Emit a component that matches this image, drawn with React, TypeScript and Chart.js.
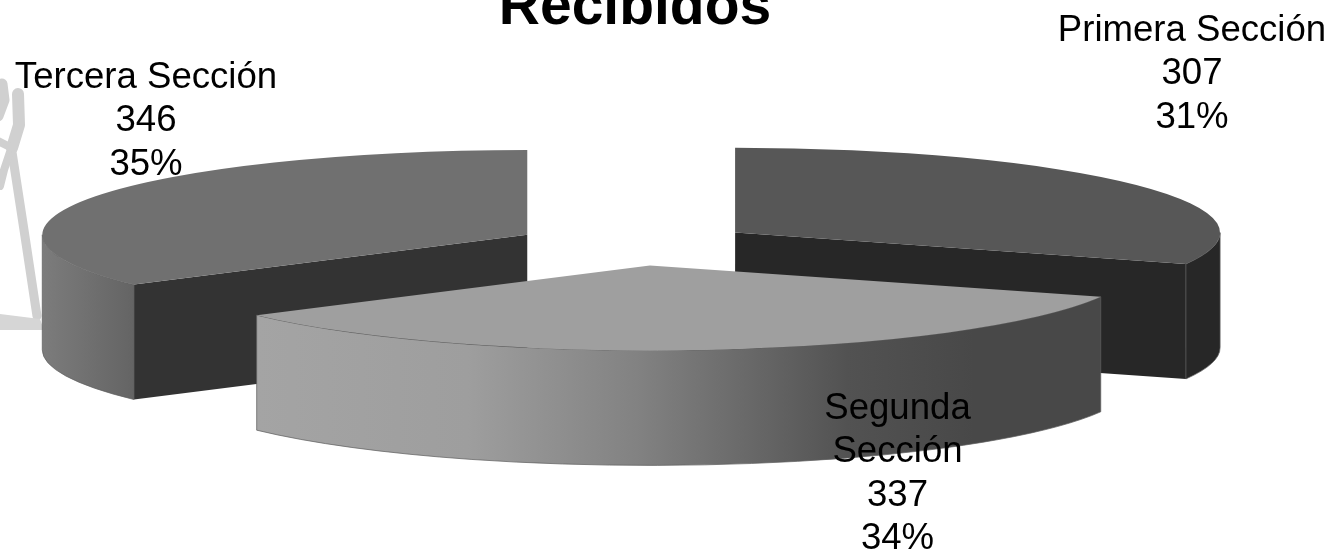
import React, { useEffect, useRef } from "react";
import { Chart, registerables } from "chart.js";

Chart.register(...registerables);

const titleText = "Recibidos";
const categories = ["Primera Sección", "Segunda Sección", "Tercera Sección"];
const values = [307, 337, 346];
const labelLines = [["Primera Sección"], ["Segunda", "Sección"], ["Tercera Sección"]];
const topColors = ["#575757", "#9f9f9f", "#707070"];
const cutColors = ["#272727", "#444444", "#333333"];
const wallStops: [number, string][][] = [
  [[0, "#272727"], [1, "#272727"]],
  [[0, "#a4a4a4"], [0.25, "#9e9e9e"], [0.45, "#828282"], [0.7, "#525252"], [0.85, "#484848"], [1, "#484848"]],
  [[0, "#7c7c7c"], [1, "#646464"]],
];

const FONT_FAMILY = "'Liberation Sans', Arial, sans-serif";
const SQUASH = 0.175;
const DEPTH = 115;
const EXPLODE = 121;
const LINE_H = 43.3;
const total = values.reduce((a, b) => a + b, 0);

function strokeTrace(ctx: CanvasRenderingContext2D, width: number, trace: number[][]) {
  ctx.lineWidth = width;
  ctx.beginPath();
  trace.forEach(([x, y], i) => (i === 0 ? ctx.moveTo(x, y) : ctx.lineTo(x, y)));
  ctx.stroke();
}

function drawWatermark(ctx: CanvasRenderingContext2D) {
  ctx.save();
  ctx.strokeStyle = "#d0d0d0";
  ctx.lineCap = "round";
  ctx.lineJoin = "round";
  strokeTrace(ctx, 9, [[12, 152], [24, 230], [37, 316]]);
  strokeTrace(ctx, 8, [[10, 152], [4, 170], [0, 186]]);
  strokeTrace(ctx, 11, [[2, 84], [4, 100], [-2, 116]]);
  strokeTrace(ctx, 12, [[18, 94], [19, 125], [12, 148]]);
  strokeTrace(ctx, 8, [[-4, 140], [12, 148]]);
  ctx.fillStyle = "#d6d6d6";
  ctx.beginPath();
  ctx.moveTo(0, 314);
  ctx.lineTo(40, 319);
  ctx.lineTo(44, 330);
  ctx.lineTo(0, 330);
  ctx.closePath();
  ctx.fill();
  ctx.restore();
}

function drawLabel(ctx: CanvasRenderingContext2D, index: number) {
  const anchorX = [1192, 897.5, 146][index];
  const firstBase = [41, 419, 88][index];
  const lines = [
    ...labelLines[index],
    String(values[index]),
    `${Math.round((values[index] / total) * 100)}%`,
  ];
  ctx.save();
  ctx.fillStyle = "#000000";
  ctx.font = `36.6px ${FONT_FAMILY}`;
  ctx.textAlign = "center";
  ctx.textBaseline = "alphabetic";
  lines.forEach((t, i) => ctx.fillText(t, anchorX, firstBase + i * LINE_H));
  ctx.restore();
}

function drawSlice(ctx: CanvasRenderingContext2D, arc: any, index: number) {
  const { x, y, startAngle, endAngle, outerRadius: R } = arc.getProps(
    ["x", "y", "startAngle", "endAngle", "outerRadius"],
    true
  );
  const mid = (startAngle + endAngle) / 2;
  const dx = Math.cos(mid) * EXPLODE;
  const dy = Math.sin(mid) * EXPLODE;
  const cx = x + dx;
  const cy = y + dy * SQUASH;
  const ry = R * SQUASH;
  const pt = (a: number): [number, number] => [cx + Math.cos(a) * R, cy + Math.sin(a) * ry];

  // Cut faces turned toward the viewer
  const cutFace = (a: number) => {
    const [px, py] = pt(a);
    ctx.beginPath();
    ctx.moveTo(cx, cy);
    ctx.lineTo(px, py);
    ctx.lineTo(px, py + DEPTH);
    ctx.lineTo(cx, cy + DEPTH);
    ctx.closePath();
    ctx.fillStyle = cutColors[index];
    ctx.fill();
  };
  const TWO_PI = Math.PI * 2;
  const norm = (a: number) => ((a % TWO_PI) + TWO_PI) % TWO_PI;
  const s = norm(startAngle);
  const e = norm(endAngle);
  if (Math.cos(s) < 0 && Math.sin(s) > 0) cutFace(startAngle);
  if (Math.cos(e) > 0 && Math.sin(e) > 0) cutFace(endAngle);

  // Outer wall: the part of the rim in the lower half of the ellipse
  const a0 = Math.max(startAngle, 0);
  const a1 = Math.min(endAngle, Math.PI);
  if (a1 > a0) {
    const [x0, y0] = pt(a0);
    const [x1, y1] = pt(a1);
    const left = Math.min(x0, x1);
    const right = Math.max(x0, x1);
    const grad = ctx.createLinearGradient(left, 0, right, 0);
    wallStops[index].forEach(([p, c]) => grad.addColorStop(p, c));
    ctx.beginPath();
    ctx.ellipse(cx, cy, R, ry, 0, a0, a1, false);
    ctx.lineTo(x1, y1 + DEPTH);
    ctx.ellipse(cx, cy + DEPTH, R, ry, 0, a1, a0, true);
    ctx.closePath();
    ctx.fillStyle = grad;
    ctx.fill();
    ctx.strokeStyle = "rgba(95,95,95,0.9)";
    ctx.lineWidth = 0.8;
    ctx.beginPath();
    ctx.ellipse(cx, cy, R, ry, 0, a0, a1, false);
    ctx.stroke();
    ctx.beginPath();
    ctx.moveTo(x0, y0);
    ctx.lineTo(x0, y0 + DEPTH);
    ctx.moveTo(x1, y1);
    ctx.lineTo(x1, y1 + DEPTH);
    ctx.stroke();
    ctx.beginPath();
    ctx.ellipse(cx, cy + DEPTH, R, ry, 0, a0, a1, false);
    ctx.stroke();
  }

  // Top face: the library's own arc, moved out along its mid-angle and squashed
  ctx.save();
  ctx.translate(0, y);
  ctx.scale(1, SQUASH);
  ctx.translate(0, -y);
  ctx.translate(dx, dy);
  arc.draw(ctx);
  ctx.restore();
}

const tiltedPie = {
  id: "tiltedPie",
  beforeDraw(chart: any) {
    drawWatermark(chart.ctx);
  },
  beforeDatasetDraw(chart: any, args: any) {
    const ctx = chart.ctx;
    drawLabel(ctx, 2);
    const arcs: any[] = args.meta.data;
    const order = arcs
      .map((arc: any, i: number) => ({ i, arc }))
      .sort((a, b) => {
        const m = (o: any) => (o.arc.startAngle + o.arc.endAngle) / 2;
        return Math.sin(m(a)) - Math.sin(m(b));
      });
    order.forEach(({ i, arc }) => drawSlice(ctx, arc, i));
    drawLabel(ctx, 0);
    drawLabel(ctx, 1);
    return false;
  },
};

export default function App() {
  const ref = useRef<HTMLCanvasElement>(null);
  useEffect(() => {
    if (!ref.current) return;
    const chart = new Chart(ref.current, {
      type: "pie",
      data: {
        labels: categories,
        datasets: [
          {
            data: values,
            backgroundColor: topColors,
            borderWidth: 0,
            clip: false,
          } as any,
        ],
      },
      options: {
        responsive: false,
        animation: false,
        radius: 485,
        layout: { padding: { right: 64, bottom: 62 } },
        events: [],
        plugins: {
          legend: { display: false },
          tooltip: { enabled: false },
          title: {
            display: true,
            text: titleText,
            color: "#000000",
            fullSize: false,
            font: { family: FONT_FAMILY, size: 57, weight: "bold", lineHeight: 1.2 },
            padding: { top: -25.6, bottom: -42.8 },
          },
        },
      } as any,
      plugins: [tiltedPie],
    });
    return () => chart.destroy();
  }, []);
  return (
    <div style={{ position: "absolute", left: 0, top: 0, width: 1334, height: 551, background: "#ffffff" }}>
      <canvas ref={ref} width={1334} height={551} style={{ display: "block" }} />
    </div>
  );
}
